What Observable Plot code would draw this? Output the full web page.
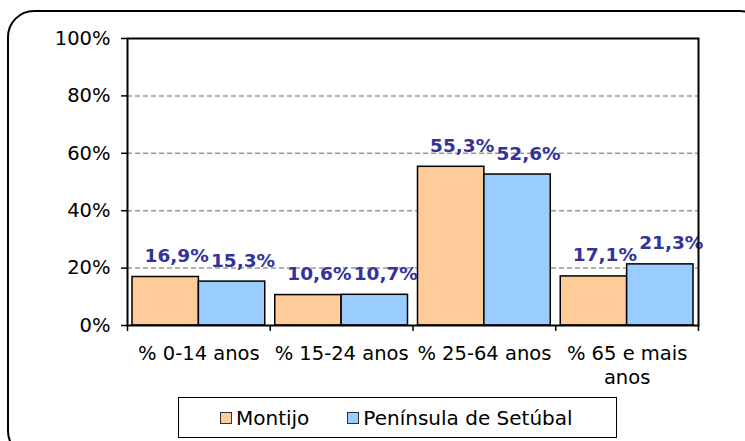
<!DOCTYPE html>
<html>
<head>
<meta charset="utf-8">
<script src="https://cdn.jsdelivr.net/npm/d3@7"></script>
<script src="https://cdn.jsdelivr.net/npm/@observablehq/plot@0.6"></script>
<style>
  html, body { margin: 0; padding: 0; background: #fff; width: 745px; height: 441px; overflow: hidden; }
  #wrap { position: relative; width: 745px; height: 441px; font-family: "DejaVu Sans", sans-serif; }
  #border { position: absolute; left: 7px; top: 10px; width: 760px; height: 448px; border: 2px solid #000; border-radius: 27px; box-sizing: border-box; }
  #chart { position: absolute; left: 0; top: 0; }
  #legend { position: absolute; left: 178px; top: 397px; width: 439px; height: 41px; border: 1.5px solid #000; box-sizing: border-box; background: #fff;
            display: flex; align-items: center; font-size: 20px; color: #000; padding-left: 41px; }
  .sw { width: 10px; height: 10px; border: 1px solid #333; display: inline-block; margin-right: 4px; }
  .item { display: flex; align-items: center; }
</style>
</head>
<body>
<div id="wrap">
  <div id="border"></div>
  <div id="chart"></div>
  <div id="legend"></div>
</div>
<script>
const groups = ["% 0-14 anos", "% 15-24 anos", "% 25-64 anos", "% 65 e mais anos"];
const series = ["Montijo", "Península de Setúbal"];
const montijo = [16.9, 10.6, 55.3, 17.1];
const peninsula = [15.3, 10.7, 52.6, 21.3];
const colors = ["#FFCC99", "#99CCFF"];
const yTicks = [0, 20, 40, 60, 80, 100];

const values = [montijo, peninsula];
const table = [];
groups.forEach((g, i) => {
  series.forEach((s, k) => {
    table.push({group: g, index: i, series: s, k, value: values[k][i]});
  });
});

// grouped bars: each category occupies one unit on a linear x scale
const pad = 0.035, half = 0.465;
const x1 = d => d.index + pad + d.k * half;
const x2 = d => d.index + pad + (d.k + 1) * half;
const xm = d => d.index + pad + (d.k + 0.5) * half;
const fmt = v => v.toFixed(1).replace(".", ",") + "%";

const chart = Plot.plot({
  width: 745,
  height: 392,
  marginLeft: 127,
  marginRight: 47,
  marginTop: 38,
  marginBottom: 67,
  style: {fontFamily: "'DejaVu Sans', sans-serif", fontSize: "19.5px", color: "#000", background: "transparent"},
  x: {type: "linear", domain: [0, groups.length], axis: null},
  y: {domain: [0, 100], axis: null},
  color: {domain: series, range: colors},
  marks: [
    Plot.gridY(yTicks.slice(1, -1), {stroke: "#999", strokeOpacity: 1, strokeWidth: 1.5, strokeDasharray: "5,3"}),
    Plot.rectY(table, {x1, x2, y: "value", fill: "series", stroke: "#000", strokeWidth: 1.5}),
    Plot.text(table, {x: xm, y: "value", text: d => fmt(d.value), dy: -15, dx: 11, lineAnchor: "bottom",
      fill: "#333399", fontWeight: "bold", fontSize: 18.5}),
    Plot.axisY({ticks: yTicks, tickSize: 6, tickPadding: 11, tickFormat: d => d + "%", fontSize: 19.5, stroke: "#000", strokeWidth: 1.5, label: null}),
    Plot.axisX({ticks: d3.range(groups.length + 1), tickSize: 6, tickFormat: () => "", stroke: "#000", strokeWidth: 1.5, label: null}),
    Plot.axisX({ticks: groups.map((g, i) => i + 0.5), tickSize: 0, tickPadding: 18, lineWidth: 7, lineHeight: 1.2,
      tickFormat: d => groups[Math.floor(d)], fontSize: 19.5, label: null}),
    Plot.frame({stroke: "#000", strokeWidth: 2})
  ]
});
document.getElementById("chart").appendChild(chart);

const legend = document.getElementById("legend");
series.forEach((s, k) => {
  const item = document.createElement("div");
  item.className = "item";
  if (k > 0) item.style.marginLeft = "38px";
  const sw = document.createElement("span");
  sw.className = "sw";
  sw.style.background = colors[k];
  const t = document.createElement("span");
  t.textContent = s;
  item.appendChild(sw);
  item.appendChild(t);
  legend.appendChild(item);
});
</script>
</body>
</html>
